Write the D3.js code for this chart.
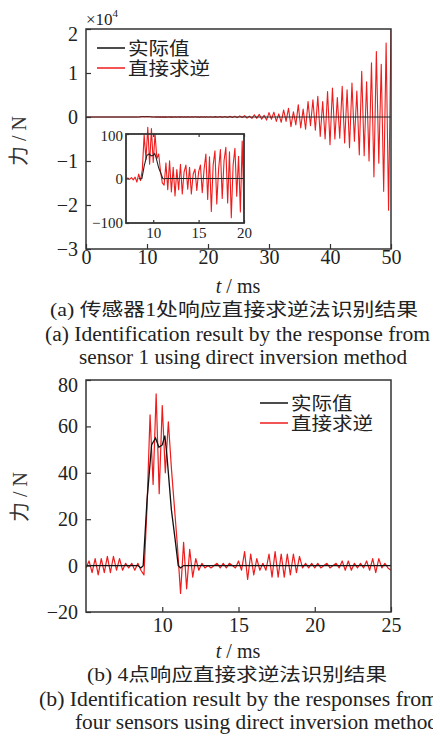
<!DOCTYPE html>
<html>
<head>
<meta charset="utf-8">
<script src="https://cdn.jsdelivr.net/npm/d3@7"></script>
<style>
body { margin: 0; background: #fff; }
</style>
</head>
<body>
<svg id="fig" width="433" height="738"></svg>
<script>
// ---- data ----
// actual force (N), same pulse in both panels
var trueT = [0, 8.4, 8.6, 8.75, 9.0, 9.3, 9.56, 9.78, 10.0, 10.17, 10.3, 10.6, 10.85, 11.05, 11.2, 11.4, 50];
var trueF = [0, 0, -1, 0, 28, 52, 55, 51, 52, 56, 48, 24, 11, 0, -1, 0, 0];

// (a) direct inversion, sensor 1: 7.0 .. 20.0 ms every 0.2 ms (N) -> inset
var invA_t0 = 7.0, invA_dt = 0.2;
var invA = [
  0, 1, -2, 2, -3, 3, -8, 10, -5, 20,
  98, 43, 115, 32, 112, 36, 100, 45, 55, 17,
  -10, -15, 35, -25, 40, -30, 25, -39, 20, -25,
  32, -35, 15, 30, -24, 25, -35, 10, 21, -27,
  15, 30, -32, 20, 55, -47, 49, -74, 30, 62,
  -57, 20, 65, -45, 40, 70, -55, 60, -88, 30,
  68, -40, 50, -75, 84, -70
];
// (a) continued: 20.4 .. 50.0 ms every 0.4 ms (x10^4 N)
var tailA_t0 = 20.4, tailA_dt = 0.4;
var tailA = [
  0.006, -0.005, 0.008, -0.006, 0.01, -0.008, 0.012, -0.01, 0.015, -0.012,
  0.02, -0.015, 0.025, -0.01, 0.03, -0.025, 0.02, -0.03, 0.05, -0.03,
  0.06, -0.05, 0.04, -0.07, 0.1, -0.05, 0.11, -0.1, 0.07, -0.12,
  0.16, -0.1, 0.2, -0.22, 0.12, -0.18, 0.28, -0.25, 0.18, -0.28,
  0.35, -0.2, 0.39, -0.3, 0.47, -0.44, 0.35, -0.5, 0.58, -0.63,
  0.66, -0.5, 0.44, -0.48, 0.7, -0.59, 0.62, -0.7, 0.77, -0.55,
  0.59, -0.86, 1.04, -0.88, 0.8, -1.0, 1.23, -1.36, 1.49, -1.05,
  1.2, -1.69, 1.68, -2.12, 1.98, -0.6, 0.1
];
// (b) direct inversion, four sensors: 5.0 .. 25.0 ms every 0.2 ms (N)
var invB_t0 = 5.0, invB_dt = 0.2;
var invB = [
  -1, 2, -3, 3, -4, 3, -3, 4, -3, 4,
  -2, 3, -2, 1, -1, 1, -2, 1, -2, -4,
  25, 65, 35, 74, 31, 69, 40, 62, 42, 25,
  8, -12, 10, -10, 7, -5, 3, -2, 1, -1,
  0, -1, 0, 1, -1, 1, -1, 1, 0, -1,
  2, -2, 6, -6, 5, -4, 3, -2, 1, -2,
  5, -5, 6, -5, 5, -5, 5, -4, 5, -3,
  4, -1, 1, -1, 1, -1, 1, -1, 0, 1,
  -1, 0, 1, -1, 2, -2, 2, -2, 1, -1,
  1, -1, 2, -2, 3, -3, 3, -1, 1, -1,
  -2
];

var legendLabels = ["实际值", "直接求逆"];
var captionA = ["(a)  传感器1处响应直接求逆法识别结果",
                "(a)  Identification result by the response from",
                "sensor 1 using direct inversion method"];
var captionB = ["(b)  4点响应直接求逆法识别结果",
                "(b)  Identification result by the responses from",
                "four sensors using direct inversion method"];

var ticksAx = [0, 10, 20, 30, 40, 50], ticksAy = [-3, -2, -1, 0, 1, 2];
var ticksIx = [10, 15, 20], ticksIy = [-100, 0, 100];
var ticksBx = [10, 15, 20, 25], ticksBy = [-20, 0, 20, 40, 60, 80];

// ---- setup ----
var red = "#ee1c1c", ink = "#222", frameCol = "#333";
var serif = "'Liberation Serif','Times New Roman','Noto Sans CJK SC',serif";
var svg = d3.select("#fig");

var trueSeries = trueT.map((t, i) => ({t: t, v: trueF[i]}));
var insetSeries = invA.map((v, i) => ({t: invA_t0 + i * invA_dt, v: v}));
var mainSeries = [{t: 0, v: 0}]
  .concat(insetSeries.map(d => ({t: d.t, v: d.v / 1e4})))
  .concat(tailA.map((v, i) => ({t: tailA_t0 + i * tailA_dt, v: v})));
var bSeries = invB.map((v, i) => ({t: invB_t0 + i * invB_dt, v: v}));

var xA = d3.scaleLinear().domain([0, 50]).range([86, 391]);
var yA = d3.scaleLinear().domain([-3, 2]).range([249, 29]);
var xI = d3.scaleLinear().domain([7, 20]).range([126, 244]);
var yI = d3.scaleLinear().domain([-100, 100]).range([223, 134]);
var xB = d3.scaleLinear().domain([5, 25]).range([86, 391]);
var yB = d3.scaleLinear().domain([-20, 80]).range([612, 380]);

var fmt = d3.format("d");

function lineFn(x, y) {
  return d3.line().x(d => x(d.t)).y(d => y(d.v));
}

function axes(x, y, o) {
  var g = svg.append("g");
  var gx = g.append("g")
    .attr("transform", "translate(0," + y.range()[0] + ")")
    .call(d3.axisBottom(x).tickValues(o.xt).tickFormat(fmt).tickSize(-o.tk).tickPadding(o.xp));
  var gy = g.append("g")
    .attr("transform", "translate(" + x.range()[0] + ",0)")
    .call(d3.axisLeft(y).tickValues(o.yt).tickFormat(fmt).tickSize(-o.tk).tickPadding(o.yp));
  if (o.top) {
    g.append("g")
      .attr("transform", "translate(0," + y.range()[1] + ")")
      .call(d3.axisTop(x).tickValues(o.xt).tickSize(-o.tk).tickFormat(""));
  }
  g.selectAll("g").attr("font-family", serif).attr("font-size", o.fs);
  g.selectAll(".domain").remove();
  g.selectAll(".tick line").attr("stroke", frameCol).attr("stroke-width", 1.2);
  g.selectAll(".tick text").attr("fill", ink);
  // top-most y label sits a little lower in the original
  gy.selectAll(".tick text").filter(d => d === y.domain()[1]).attr("dy", o.topDy || "0.32em");
  return g;
}

function frame(x, y, w) {
  svg.append("rect")
    .attr("x", x.range()[0]).attr("y", y.range()[1])
    .attr("width", x.range()[1] - x.range()[0])
    .attr("height", y.range()[0] - y.range()[1])
    .attr("fill", "none").attr("stroke", frameCol).attr("stroke-width", w);
}

function clip(id, x, y) {
  svg.append("clipPath").attr("id", id).append("rect")
    .attr("x", x.range()[0]).attr("y", y.range()[1])
    .attr("width", x.range()[1] - x.range()[0])
    .attr("height", y.range()[0] - y.range()[1]);
}

function legend(x0, y0, gap) {
  var lg = svg.append("g");
  [ "#111", red ].forEach(function(c, i) {
    lg.append("line")
      .attr("x1", x0).attr("x2", x0 + 28)
      .attr("y1", y0 + i * gap).attr("y2", y0 + i * gap)
      .attr("stroke", c).attr("stroke-width", 1.5);
    lg.append("text")
      .attr("x", x0 + 31).attr("y", y0 + i * gap + 7)
      .attr("font-family", serif).attr("font-size", 18)
      .attr("textLength", legendLabels[i].length * 20.5)
      .attr("lengthAdjust", "spacingAndGlyphs")
      .attr("fill", ink)
      .text(legendLabels[i]);
  });
}

function yTitle(x, y) {
  svg.append("text")
    .attr("transform", "translate(" + x + "," + y + ") rotate(-90)")
    .attr("text-anchor", "middle")
    .attr("font-family", serif).attr("font-size", 20).attr("fill", "#333")
    .text("力 / N");
}

function xTitle(y) {
  var t = svg.append("text")
    .attr("x", 238).attr("y", y).attr("text-anchor", "middle")
    .attr("font-family", serif).attr("font-size", 20).attr("fill", ink);
  t.append("tspan").attr("font-style", "italic").text("t");
  t.append("tspan").text(" / ms");
}

function caption(lines, xs, ys, lens, sizes) {
  lines.forEach(function(s, i) {
    svg.append("text")
      .attr("x", xs[i]).attr("y", ys[i])
      .attr("font-family", serif).attr("font-size", sizes[i])
      .attr("fill", ink)
      .attr("textLength", lens[i]).attr("lengthAdjust", "spacingAndGlyphs")
      .text(s);
  });
}

// ---- panel (a) ----
clip("clipA", xA, yA);
svg.append("path").datum(mainSeries)
  .attr("clip-path", "url(#clipA)")
  .attr("d", lineFn(xA, yA))
  .attr("fill", "none").attr("stroke", red).attr("stroke-width", 1.1)
  .attr("stroke-linejoin", "round");
svg.append("path").datum(trueSeries.map(d => ({t: d.t, v: d.v / 1e4})))
  .attr("clip-path", "url(#clipA)")
  .attr("d", lineFn(xA, yA))
  .attr("fill", "none").attr("stroke", "#222").attr("stroke-width", 1);
axes(xA, yA, {xt: ticksAx, yt: ticksAy, tk: 5, xp: 1, yp: 8, fs: 20, topDy: "0.55em"});
frame(xA, yA, 1.5);

var sc = svg.append("text").attr("x", 86).attr("y", 25)
  .attr("font-family", serif).attr("font-size", 17).attr("fill", ink);
sc.append("tspan").text("×10");
sc.append("tspan").attr("font-size", 11).attr("dy", -8).text("4");

legend(97, 48, 20);
yTitle(26, 141);
xTitle(293);

// inset
svg.append("rect")
  .attr("x", xI.range()[0]).attr("y", yI.range()[1])
  .attr("width", xI.range()[1] - xI.range()[0])
  .attr("height", yI.range()[0] - yI.range()[1])
  .attr("fill", "#fff");
svg.append("path").datum(insetSeries)
  .attr("d", lineFn(xI, yI))
  .attr("fill", "none").attr("stroke", red).attr("stroke-width", 1.1)
  .attr("stroke-linejoin", "round");
svg.append("path").datum(trueSeries.filter(d => d.t >= 7 && d.t <= 20)
    .concat([{t: 20, v: 0}]).sort((a, b) => a.t - b.t))
  .attr("d", lineFn(xI, yI))
  .attr("fill", "none").attr("stroke", "#222").attr("stroke-width", 1.1);
axes(xI, yI, {xt: ticksIx, yt: ticksIy, tk: 3, xp: 4, yp: 3, fs: 15, top: true, topDy: "0.45em"});
frame(xI, yI, 1.8);

caption(captionA, [50, 45, 79], [316, 341, 364], [368, 385, 328], [18, 20, 20]);

// ---- panel (b) ----
clip("clipB", xB, yB);
svg.append("path").datum(bSeries)
  .attr("clip-path", "url(#clipB)")
  .attr("d", lineFn(xB, yB))
  .attr("fill", "none").attr("stroke", red).attr("stroke-width", 1.2)
  .attr("stroke-linejoin", "round");
svg.append("path").datum(trueSeries)
  .attr("clip-path", "url(#clipB)")
  .attr("d", lineFn(xB, yB))
  .attr("fill", "none").attr("stroke", "#111").attr("stroke-width", 1.3);
axes(xB, yB, {xt: ticksBx, yt: ticksBy, tk: 5, xp: 6, yp: 8, fs: 20, topDy: "0.55em"});
frame(xB, yB, 1.5);

legend(260, 403, 20);
yTitle(27, 497);
xTitle(658);

caption(captionB, [87, 39, 75], [681, 706, 729], [300, 399, 363], [18, 20, 20]);
</script>
</body>
</html>
